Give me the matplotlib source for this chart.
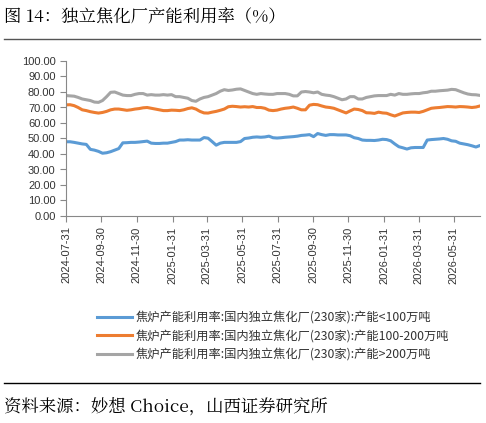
import matplotlib
matplotlib.use("Agg")
import matplotlib.pyplot as plt
import matplotlib.dates as mdates
import pandas as pd
from matplotlib.lines import Line2D

plt.rcParams['font.family'] = ['Noto Sans CJK SC', 'DejaVu Sans']

start_date = "2024-07-31"
tick_dates = ["2024-07-31","2024-09-30","2024-11-30","2025-01-31","2025-03-31","2025-05-31",
              "2025-07-31","2025-09-30","2025-11-30","2026-01-31","2026-03-31","2026-05-31"]
labels = ["焦炉产能利用率:国内独立焦化厂(230家):产能<100万吨",
          "焦炉产能利用率:国内独立焦化厂(230家):产能100-200万吨",
          "焦炉产能利用率:国内独立焦化厂(230家):产能>200万吨"]
small = [47.9,47.9,47.5,47,46.5,46.2,43,42.5,41.7,40.5,40.8,41.5,42.5,43.5,47.2,47.3,47.5,47.5,47.7,48,
         48.3,47,46.8,46.8,47,47,47.5,48,49,49,49.2,49,49,49,50.6,50.2,48,45.7,47,47.5,
         47.5,47.5,47.5,48,50,50.3,50.8,51,50.8,51,51.5,50.5,50.3,50.5,50.8,51,51.2,51.5,52,52.2,
         52.5,51.2,53.2,52.5,52,52.5,52.5,52.3,52.3,52.3,51.8,50.5,50,49,48.8,48.8,48.7,49,49.5,49.3,
         48.5,46.5,44.7,44,43.2,44,44.2,44.2,44.2,49,49.3,49.5,49.7,50,49.5,48.5,48.2,47,46.5,46,
         45.3,44.5,45.5,44.8,44.2,43.5]
mid = [71.7,71.8,71.2,70,68.5,68,67.3,66.8,66.4,66.8,67.5,68.5,69,69,68.6,68.2,68.5,69,69.3,69.8,
       70,69.5,69,68.5,68,68,68.3,68.2,68,68.5,69.3,69.8,69,67.5,66.5,66.4,67,67.5,68.2,69,
       70.5,70.8,70.6,70.3,70.5,70.3,70.6,70,70,69.5,68.3,68,68.3,69,69.5,69.8,70.3,69.5,68.5,68.5,
       71.5,72,71.8,71,70.3,70,69.5,68.5,67.5,66.5,67.8,69,68.7,68,66.6,66.5,66.2,67,66.5,66.3,
       65.3,64.5,65.5,66.5,66.8,67,67,66.8,67.5,68.5,69.5,69.8,70,70.3,70.6,70.5,70.3,70.6,70.5,70.3,
       70,70.3,71]
large = [77.7,77.5,77.3,76.5,75.5,75,74.5,73.5,73.3,74.5,77,79.8,80,79,78,77.7,77.7,78.5,79,79,
         78,78.3,78,78,78.3,78,78.3,77,77,76.5,76,74.5,74,75.5,76.5,77,78,79,80.5,81.5,
         81,81.3,81.8,82,81,80,79,78.5,79,78.7,78.5,78.5,79,79,79,78.5,77.5,77.5,80,80.3,
         80,79.5,80,78.5,78,77.7,77,76,75,75.5,77,77,75.5,75.5,76.5,77,77.5,77.7,77.7,77.7,
         78.5,78,79,78.5,78.5,78.8,79,79,79.5,79.8,80.5,80.5,80.8,81,81.2,81.7,81.5,80.5,79.5,78.7,
         78.3,78.2,77.8]
colors = ["#5B9BD5", "#ED7D31", "#A5A5A5"]

fig = plt.figure(figsize=(4.86, 4.23), dpi=100)
ax = fig.add_axes([66/486, 1-216/423, (480-66)/486, (216-61)/423])
for vals, c, lab in zip([small, mid, large], colors, labels):
    d = pd.date_range(start_date, periods=len(vals), freq="7D")
    ax.plot(d, vals, color=c, lw=2.2, label=lab)

ax.set_ylim(0, 100)
ax.set_yticks(range(0, 101, 10))
ax.set_yticklabels([f"{v:.2f}" for v in range(0, 101, 10)], fontsize=8, family=['Liberation Sans'])
td = pd.to_datetime(tick_dates)
ax.set_xticks(td)
ax.set_xticklabels(tick_dates, rotation=90, fontsize=8, family=['Liberation Sans'])
ax.set_xlim(pd.Timestamp(start_date), pd.Timestamp(start_date) + pd.Timedelta(days=7*102))
for s in ["top", "right"]:
    ax.spines[s].set_visible(False)
for s in ["left", "bottom"]:
    ax.spines[s].set_color("#888888")
ax.tick_params(colors="#888888", labelcolor="#333333", length=4)

fig.legend(loc="upper left", bbox_to_anchor=(86/486, 1-300/423), frameon=False,
           fontsize=8.8, handlelength=2.9, handletextpad=0.3, labelspacing=0.45, labelcolor="#333333")

fig.text(4/486, 1-17/423, "图 14：独立焦化厂产能利用率（%）", fontsize=12.5, va="center",
         family=['Noto Serif CJK SC', 'Noto Sans CJK SC'])
fig.add_artist(Line2D([4/486, 480/486], [1-39/423]*2, color="#555555", lw=1))
fig.add_artist(Line2D([4/486, 480/486], [1-383/423]*2, color="black", lw=1))
fig.text(4/486, 1-406/423, "资料来源：妙想 Choice，山西证券研究所", fontsize=12.5, va="center",
         family=['Noto Serif CJK SC', 'Noto Sans CJK SC'])
fig.savefig("out.png", dpi=100)
